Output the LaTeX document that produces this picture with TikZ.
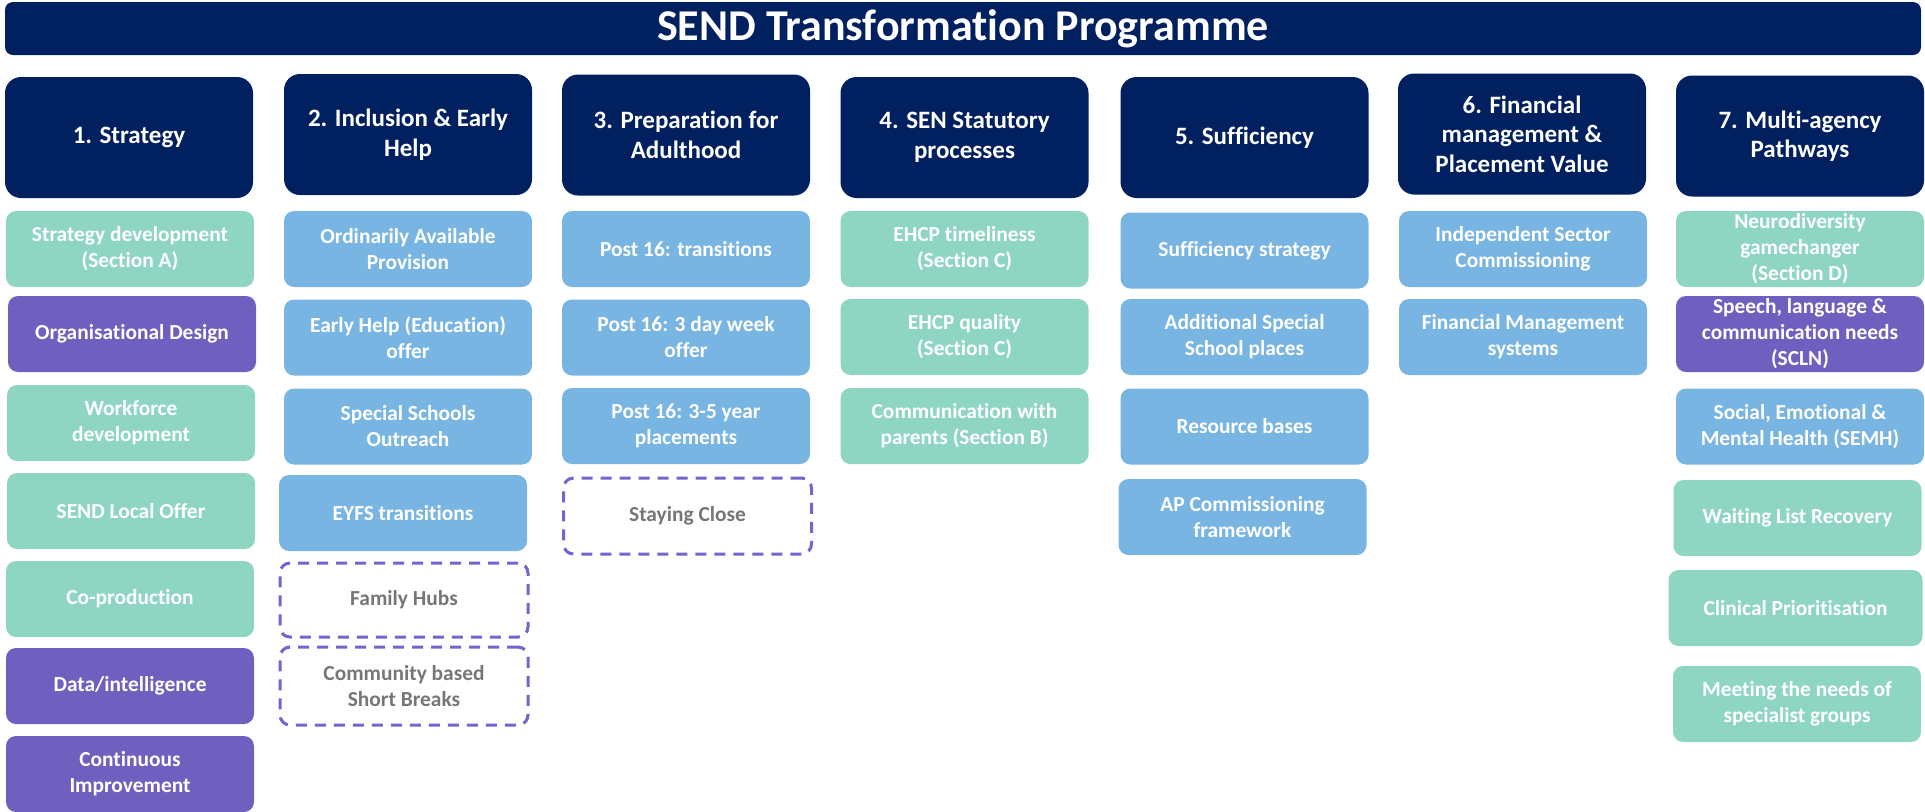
\documentclass[tikz,border=0pt]{standalone}
\usepackage{fontspec}
\setmainfont{Carlito}[RawFeature=-liga]
\usepackage{xcolor}
\usepackage{tikz}
\definecolor{headcolor}{RGB}{0,32,96}
\definecolor{tealcolor}{RGB}{143,214,194}
\definecolor{bluecolor}{RGB}{121,181,227}
\definecolor{purplecolor}{RGB}{111,96,192}
\definecolor{dashcolor}{RGB}{116,100,204}
\definecolor{greytext}{RGB}{118,118,118}
\tikzset{
  title bar/.style={
    rectangle,
    rounded corners=4pt,
    fill=headcolor,
    minimum width=958pt,
    minimum height=26.5pt,
    inner sep=0pt,
    text=white,
    font=\fontsize{22}{26}\selectfont\bfseries
  },
  head box/.style={
    rectangle,
    rounded corners=8pt,
    fill=headcolor,
    minimum width=124pt,
    minimum height=60.5pt,
    inner sep=1pt,
    align=center,
    text=white,
    font=\fontsize{12.5}{14.8}\selectfont\bfseries
  },
  task box/.style={
    rectangle,
    rounded corners=5pt,
    minimum width=124pt,
    minimum height=38pt,
    inner sep=1pt,
    align=center,
    text=white,
    font=\fontsize{10.7}{13}\selectfont\bfseries
  },
  task teal/.style={task box, fill=tealcolor},
  task blue/.style={task box, fill=bluecolor},
  task purple/.style={task box, fill=purplecolor},
  task planned/.style={
    task box,
    draw=dashcolor,
    line width=1.5pt,
    dash pattern=on 5.5pt off 4pt,
    text=greytext
  }
}

\begin{document}
\begin{tikzpicture}[x=0.5pt, y=-0.5pt]
  \useasboundingbox (0,0) rectangle (1925,811);

  % Title
  \node[title bar] (title) at (963,28.5) {SEND Transformation Programme};

  % Workstream headers
  \node[head box] (strategy) at (129,137.5) {1. Strategy};
  \node[head box] (inclusion) at (408,134.5) {2. Inclusion \& Early\\Help};
  \node[head box] (adulthood) at (686,135) {3. Preparation for\\Adulthood};
  \node[head box] (statutory) at (964.5,137.5) {4. SEN Statutory\\processes};
  \node[head box] (sufficiency) at (1244.5,137.5) {5. Sufficiency};
  \node[head box] (finance) at (1522,134) {6. Financial\\management \&\\Placement Value};
  \node[head box] (multiagency) at (1800,136) {7. Multi-agency\\Pathways};

  % 1. Strategy
  \node[task teal] (stratdev) at (130,249) {Strategy development\\(Section A)};
  \node[task purple] (orgdesign) at (132,334) {Organisational Design};
  \node[task teal] (workforce) at (131,423) {Workforce\\development};
  \node[task teal] (localoffer) at (131,511) {SEND Local Offer};
  \node[task teal] (coprod) at (130,599) {Co-production};
  \node[task purple] (data) at (130,686) {Data/intelligence};
  \node[task purple] (improve) at (130,774) {Continuous\\Improvement};

  % 2. Inclusion & Early Help
  \node[task blue] (oap) at (408,249) {Ordinarily Available\\Provision};
  \node[task blue] (earlyhelp) at (408,337.5) {Early Help (Education)\\offer};
  \node[task blue] (outreach) at (408,426.5) {Special Schools\\Outreach};
  \node[task blue] (eyfs) at (403,513) {EYFS transitions};
  \node[task planned, minimum height=37pt] (hubs) at (404,600) {Family Hubs};
  \node[task planned, minimum height=39pt] (breaks) at (404,686) {Community based\\Short Breaks};

  % 3. Preparation for Adulthood
  \node[task blue] (post16a) at (686,249) {Post 16: transitions};
  \node[task blue] (post16b) at (686,337.5) {Post 16: 3 day week\\offer};
  \node[task blue] (post16c) at (686,426) {Post 16: 3-5 year\\placements};
  \node[task planned] (close) at (687.5,516) {Staying Close};

  % 4. SEN Statutory processes
  \node[task teal] (timeliness) at (964.5,249) {EHCP timeliness\\(Section C)};
  \node[task teal] (quality) at (964.5,337) {EHCP quality\\(Section C)};
  \node[task teal] (parents) at (964.5,426) {Communication with\\parents (Section B)};

  % 5. Sufficiency
  \node[task blue] (suffstrat) at (1244.5,250.5) {Sufficiency strategy};
  \node[task blue] (places) at (1244.5,337) {Additional Special\\School places};
  \node[task blue] (bases) at (1244.5,426.5) {Resource bases};
  \node[task blue] (apcomm) at (1242.5,517) {AP Commissioning\\framework};

  % 6. Financial management
  \node[task blue] (indep) at (1523,249) {Independent Sector\\Commissioning};
  \node[task blue] (finsys) at (1523,337) {Financial Management\\systems};

  % 7. Multi-agency Pathways
  \node[task teal] (neuro) at (1800,249) {Neurodiversity\\gamechanger\\(Section D)};
  \node[task purple] (scln) at (1800,334) {Speech, language \&\\communication needs\\(SCLN)};
  \node[task blue] (semh) at (1800,426.5) {Social, Emotional \&\\Mental Health (SEMH)};
  \node[task teal] (waiting) at (1797.5,518) {Waiting List Recovery};
  \node[task teal, minimum width=127pt] (clinical) at (1795.5,608) {Clinical Prioritisation};
  \node[task teal] (groups) at (1797,704) {Meeting the needs of\\specialist groups};

\end{tikzpicture}
\end{document}
